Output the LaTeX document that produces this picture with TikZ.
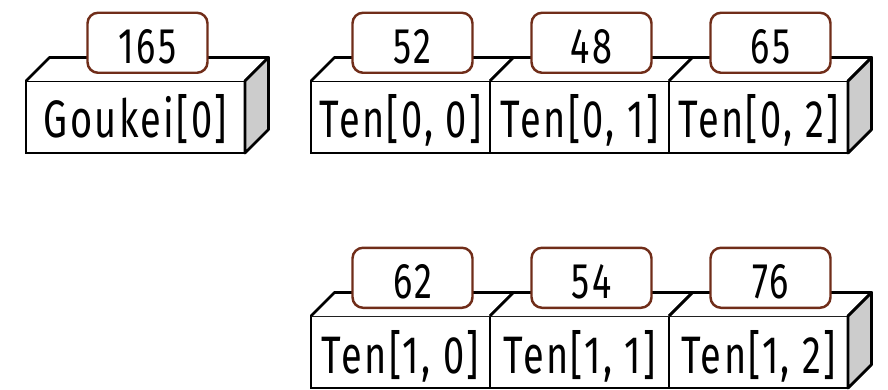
\documentclass[tikz,border=0pt]{standalone}
\usepackage{fontspec}
\newfontfamily\celdafont[FakeStretch=0.72,LetterSpace=4.5]{Fira Sans}
\usetikzlibrary{calc,positioning}
\definecolor{ladrillo}{RGB}{112,45,25}
\definecolor{gris}{RGB}{204,204,204}
\tikzset{
  celda/.style={
    draw,
    line width=1.6pt,
    fill=white,
    minimum width=3.58cm,
    minimum height=1.44cm,
    inner sep=0pt,
    outer sep=0pt,
    text height=0.84cm,
    text depth=0cm,
    font=\celdafont\fontsize{30}{34}\selectfont
  },
  valor/.style={
    draw=ladrillo,
    line width=1.4pt,
    fill=white,
    rounded corners=6pt,
    minimum width=2.4cm,
    minimum height=1.2cm,
    inner sep=0pt,
    text height=0.82cm,
    text depth=0cm,
    font=\celdafont\fontsize{28.5}{34}\selectfont
  },
  tapa/.style={
    draw,
    line width=1.6pt,
    fill=white,
    line join=round
  },
  lado/.style={
    tapa,
    fill=gris
  }
}

\begin{document}
\begin{tikzpicture}
\useasboundingbox (0,0) rectangle (17.76,-7.8);
\node[celda] (t00) at (8.01,-2.34) {Ten[0, 0]};
\node[celda, right=0pt of t00] (t01) {Ten[0, 1]};
\node[celda, right=0pt of t01] (t02) {Ten[0, 2]};
\node[celda, minimum width=4.38cm, left=1.32cm of t00] (g) {Goukei[0]};
\node[celda, below=3.26cm of t00] (t10) {Ten[1, 0]};
\node[celda, right=0pt of t10] (t11) {Ten[1, 1]};
\node[celda, right=0pt of t11] (t12) {Ten[1, 2]};
% caras de arriba y de lado
\foreach \c in {g,t00,t01,t02,t10,t11,t12}
  \draw[tapa] (\c.north west) -- ++(0.47,0.47) -- ($(\c.north east)+(0.47,0.47)$) -- (\c.north east);
\foreach \c in {g,t02,t12}
  \draw[lado] (\c.north east) -- ++(0.47,0.47) -- ++(0,-1.44) -- (\c.south east) -- cycle;
% valores
\node[valor, above=0.14cm of g.north, xshift=0.24cm] (vg) {165};
\node[valor, above=0.14cm of t00.north, xshift=0.24cm] (v00) {52};
\node[valor, above=0.14cm of t01.north, xshift=0.24cm] (v01) {48};
\node[valor, above=0.14cm of t02.north, xshift=0.24cm] (v02) {65};
\node[valor, above=0.14cm of t10.north, xshift=0.24cm] (v10) {62};
\node[valor, above=0.14cm of t11.north, xshift=0.24cm] (v11) {54};
\node[valor, above=0.14cm of t12.north, xshift=0.24cm] (v12) {76};
\end{tikzpicture}
\end{document}
